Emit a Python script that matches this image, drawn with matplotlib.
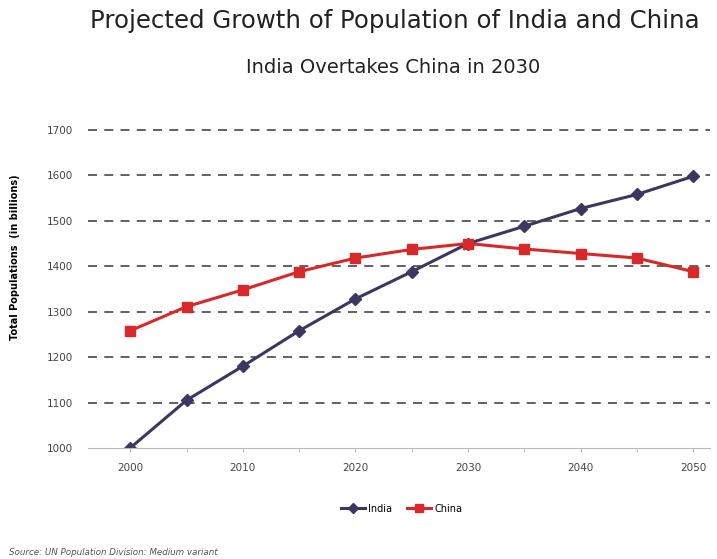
import matplotlib
matplotlib.use('Agg')
import matplotlib.pyplot as plt
from matplotlib.ticker import MultipleLocator

years = [2000, 2005, 2010, 2015, 2020, 2025, 2030, 2035, 2040, 2045, 2050]
india = [1000, 1105, 1180, 1258, 1328, 1388, 1450, 1488, 1527, 1558, 1598]
china = [1258, 1311, 1348, 1388, 1418, 1437, 1450, 1438, 1428, 1418, 1388]
y_ticks = [1000, 1100, 1200, 1300, 1400, 1500, 1600, 1700]
x_ticks = [2000, 2010, 2020, 2030, 2040, 2050]

fig = plt.figure(figsize=(7.17, 5.59), dpi=100)
ax = fig.add_axes([0.123, 0.1986, 0.8675, 0.569])

ax.plot(years, india, color='#3a3860', marker='D', markersize=6.5, linewidth=2.2, label='India')
ax.plot(years, china, color='#d9282a', marker='s', markersize=6.5, linewidth=2.2, label='China')

ax.set_ylim(1000, 1700)
ax.set_xlim(1996.27, 2051.5)
ax.set_yticks(y_ticks)
ax.set_xticks(x_ticks)
ax.xaxis.set_minor_locator(MultipleLocator(5))
for y in y_ticks[1:]:
    ax.axhline(y, color='#555555', linestyle=(0, (5, 4)), linewidth=1.3, zorder=0, clip_on=False)

for s in ['top', 'right', 'left']:
    ax.spines[s].set_visible(False)
ax.spines['bottom'].set_color('#bbbbbb')
ax.tick_params(axis='y', length=0, labelsize=7.5, colors='#444444', pad=11)
ax.tick_params(axis='x', which='both', length=3, color='#bbbbbb', labelsize=7.5, labelcolor='#444444', pad=8)
ax.set_ylabel('Total Populations  (in billions)', fontsize=7, fontweight='bold')
ax.yaxis.set_label_coords(-0.109, 0.6)

fig.text(0.551, 0.95, 'Projected Growth of Population of India and China', ha='center', va='baseline',
         fontsize=17.6, color='#222222')
fig.text(0.548, 0.869, 'India Overtakes China in 2030', ha='center', va='baseline',
         fontsize=14, color='#222222')
fig.legend(loc='center', bbox_to_anchor=(0.56, 0.09), ncol=2, frameon=False, fontsize=7,
           handlelength=2.5, columnspacing=1.5, handletextpad=0.3, markerscale=0.8)
fig.text(0.012, 0.0125, 'Source: UN Population Division: Medium variant', va='center',
         fontsize=6.3, style='italic', color='#555555')

fig.savefig('out.png', dpi=100, facecolor='white')
